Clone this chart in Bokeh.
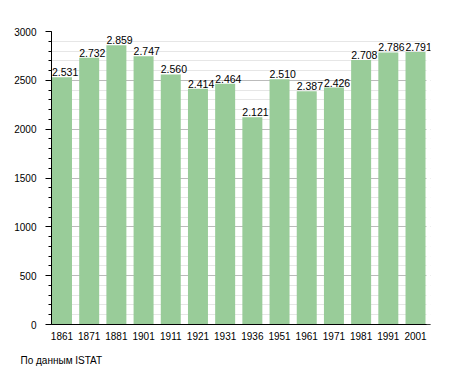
from bokeh.plotting import figure
from bokeh.models import ColumnDataSource, Range1d, FixedTicker, LabelSet, Title, BoxAnnotation
from bokeh.core.properties import value
from bokeh.embed import file_html
from bokeh.resources import INLINE

years = ["1861", "1871", "1881", "1901", "1911", "1921", "1931", "1936",
         "1951", "1961", "1971", "1981", "1991", "2001"]
population = [2531, 2732, 2859, 2747, 2560, 2414, 2464, 2121,
              2510, 2387, 2426, 2708, 2786, 2791]
y_ticks = [0, 500, 1000, 1500, 2000, 2500, 3000]
labels = ["{:,}".format(v).replace(",", ".") for v in population]
xpos = list(range(len(years)))

src = ColumnDataSource(dict(x=xpos, top=population, label=labels))

plot_end = len(years) - 0.596
p = figure(x_range=Range1d(-0.386, plot_end + 0.147),
           y_range=Range1d(0, 3000),
           frame_width=379, frame_height=293,
           output_backend="svg", toolbar_location=None,
           min_border_left=51, min_border_right=20, min_border_top=31,
           min_border_bottom=4)
p.outline_line_color = None

p.vbar(x="x", top="top", width=0.735, source=src, color="#99cc99", line_color=None)

font = "Liberation Sans"
p.yaxis.ticker = FixedTicker(ticks=y_ticks, minor_ticks=list(range(0, 3001, 100)))
p.yaxis.axis_line_color = "black"
p.yaxis.major_tick_line_color = "black"
p.yaxis.minor_tick_line_color = "black"
p.yaxis.major_tick_out = 6
p.yaxis.major_tick_in = 0
p.yaxis.minor_tick_out = 3
p.yaxis.minor_tick_in = 0
p.yaxis.major_label_text_font = font
p.yaxis.major_label_text_font_size = "10px"
p.yaxis.major_label_text_color = "black"
p.yaxis.major_label_standoff = 9

p.xaxis.ticker = FixedTicker(ticks=xpos, minor_ticks=[])
p.xaxis.major_label_overrides = {i: y for i, y in zip(xpos, years)}
p.xaxis.axis_line_color = "black"
p.xaxis.major_tick_line_color = None
p.xaxis.minor_tick_line_color = None
p.xaxis.major_label_text_font = font
p.xaxis.major_label_text_font_size = "10px"
p.xaxis.major_label_text_color = "black"
p.xaxis.major_label_standoff = 1

p.xgrid.grid_line_color = None
p.ygrid.grid_line_color = "#bbbbbb"
p.ygrid.minor_grid_line_color = "#e6e6e6"

# hide the grid beyond the plotting area's right edge (room left for the last label)
p.add_layout(BoxAnnotation(left=plot_end, fill_color="white", fill_alpha=1.0,
                           line_color=None))

ls = LabelSet(x="x", y="top", text="label", source=src, text_align="left",
              text_baseline="bottom", x_offset=-10, y_offset=1, text_font=value(font),
              text_font_size=value("10.5px"), text_color=value("black"))
p.add_layout(ls)

note = Title(text="По данным  ISTAT", align="left", offset=-31,
             text_font=font, text_font_size="10px", text_font_style="normal",
             text_color="black", standoff=21)
p.add_layout(note, "below")

open("out.html", "w").write(file_html(p, INLINE))
